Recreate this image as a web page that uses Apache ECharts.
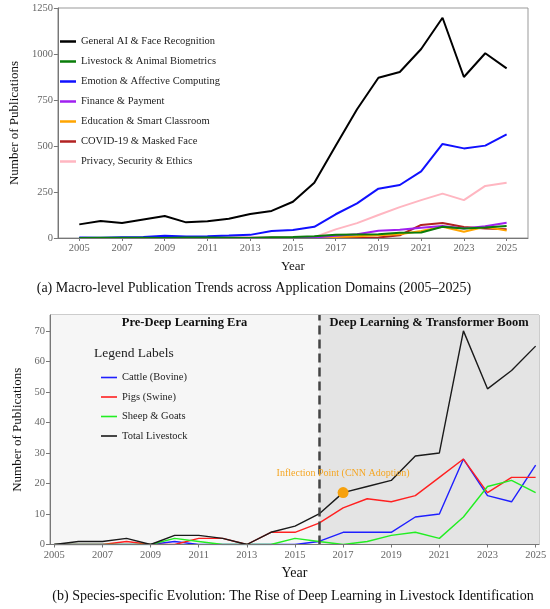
<!DOCTYPE html>
<html>
<head>
<meta charset="utf-8">
<script src="https://cdn.jsdelivr.net/npm/echarts@6/dist/echarts.min.js"></script>
<style>
  html, body { margin: 0; padding: 0; background: #fff; }
  #chart { width: 550px; height: 609px; }
</style>
</head>
<body>
<div id="chart"></div>
<script>
// datos
const years = [2005, 2006, 2007, 2008, 2009, 2010, 2011, 2012, 2013, 2014, 2015,
  2016, 2017, 2018, 2019, 2020, 2021, 2022, 2023, 2024, 2025];
const oddYears = [2005, 2007, 2009, 2011, 2013, 2015, 2017, 2019, 2021, 2023, 2025];

// (a) dominios
const domainNames = [
  "General AI & Face Recognition",
  "Livestock & Animal Biometrics",
  "Emotion & Affective Computing",
  "Finance & Payment",
  "Education & Smart Classroom",
  "COVID-19 & Masked Face",
  "Privacy, Security & Ethics",
];
const generalAI = [74, 92, 81, 101, 120, 85, 91, 105, 130, 147, 197, 300, 502, 700, 871, 902, 1027, 1197, 875, 1004, 922];
const livestock = [0, 1, 1, 2, 0, 3, 3, 2, 0, 4, 6, 10, 17, 19, 21, 29, 30, 61, 51, 57, 65];
const emotion = [3, 2, 4, 5, 12, 8, 10, 13, 17, 38, 43, 61, 129, 188, 268, 288, 362, 511, 487, 502, 563];
const finance = [0, 0, 0, 0, 1, 1, 1, 1, 1, 2, 2, 3, 12, 20, 40, 45, 56, 65, 51, 64, 83];
const education = [0, 0, 0, 0, 0, 0, 0, 1, 1, 1, 2, 3, 6, 10, 15, 20, 38, 61, 34, 61, 40];
const covid = [0, 0, 0, 0, 0, 0, 0, 0, 0, 0, 0, 0, 0, 1, 3, 15, 71, 81, 60, 51, 47];
const privacy = [0, 0, 0, 0, 0, 0, 0, 0, 0, 1, 2, 5, 47, 81, 125, 168, 206, 241, 206, 283, 300];
const domainColors = ["#000000", "#0a7d0a", "#1010ff", "#a020f0", "#ffa500", "#b22222", "#ffb6c1"];
const yTicksA = [0, 250, 500, 750, 1000, 1250];

// (b) especies
const speciesNames = ["Cattle (Bovine)", "Pigs (Swine)", "Sheep & Goats", "Total Livestock"];
const cattle = [0, 0, 0, 0, 0, 1, 0, 0, 0, 0, 0, 1, 4, 4, 4, 9, 10, 28, 16, 14, 26];
const pigs = [0, 0, 0, 1, 0, 0, 2, 2, 0, 4, 4, 7, 12, 15, 14, 16, 22, 28, 17, 22, 22];
const sheep = [0, 0, 0, 0, 0, 2, 1, 0, 0, 0, 2, 1, 0, 1, 3, 4, 2, 9, 19, 21, 17];
const totalLivestock = [0, 1, 1, 2, 0, 3, 3, 2, 0, 4, 6, 10, 17, 19, 21, 29, 30, 70, 51, 57, 65];
const speciesColors = ["#1f1fff", "#ff2020", "#22ee22", "#1a1a1a"];
const yTicksB = [0, 10, 20, 30, 40, 50, 60, 70];
const eraBreak = 2016;
const inflection = [2017, 17];

const pares = (vals) => years.map((y, i) => [y, vals[i]]);
const fuente = "Liberation Serif";

const domainSeries = [generalAI, livestock, emotion, finance, education, covid, privacy].map((vals, i) => ({
  name: domainNames[i],
  type: "line",
  xAxisIndex: 0,
  yAxisIndex: 0,
  data: pares(vals),
  showSymbol: false,
  lineStyle: { width: 2, color: domainColors[i] },
  itemStyle: { color: domainColors[i] },
  z: 10 - i,
}));

const speciesSeries = [cattle, pigs, sheep, totalLivestock].map((vals, i) => ({
  name: speciesNames[i],
  type: "line",
  xAxisIndex: 1,
  yAxisIndex: 1,
  data: pares(vals),
  showSymbol: false,
  lineStyle: { width: 1.4, color: speciesColors[i] },
  itemStyle: { color: speciesColors[i] },
}));

// fondo de las eras, linea discontinua y punto de inflexion
speciesSeries[3].markArea = {
  silent: true,
  label: { fontFamily: fuente, fontWeight: "bold", fontSize: 12.5, color: "#111", position: "insideTop", distance: 1 },
  data: [
    [{ name: "Pre-Deep Learning Era", xAxis: 2004.82, itemStyle: { color: "#f6f6f6" } }, { xAxis: eraBreak }],
    [{ name: "Deep Learning & Transformer Boom", xAxis: eraBreak, itemStyle: { color: "#e4e4e4" } }, { xAxis: 2025.14 }],
  ],
};
speciesSeries[3].markLine = {
  silent: true,
  symbol: "none",
  label: { show: false },
  lineStyle: { color: "#444", width: 2.5, type: [9, 5] },
  data: [{ xAxis: eraBreak }],
};
speciesSeries[3].markPoint = {
  symbol: "circle",
  symbolSize: 11,
  itemStyle: { color: "#f7a10c" },
  label: {
    show: true,
    position: "top",
    distance: 9,
    formatter: "Inflection Point (CNN Adoption)",
    fontFamily: fuente,
    fontSize: 10,
    color: "#f5a623",
  },
  data: [{ coord: inflection }],
};

const ejeX = (min, max, gridIndex, nameFont) => ({
  type: "value",
  gridIndex,
  min,
  max,
  z: 20,
  name: "Year",
  nameLocation: "middle",
  nameGap: 22,
  nameTextStyle: { fontFamily: fuente, fontSize: nameFont, color: "#111" },
  axisLine: { show: true, lineStyle: { color: "#777" } },
  axisTick: { show: true, length: 3, customValues: oddYears, lineStyle: { color: "#777" } },
  axisLabel: { customValues: oddYears, formatter: (v) => String(v), fontFamily: fuente, fontSize: 10.5, color: "#666", margin: 5 },
  splitLine: { show: false },
});

const ejeY = (ticks, max, gridIndex, nameGap) => ({
  type: "value",
  gridIndex,
  min: 0,
  max,
  z: 20,
  name: "Number of Publications",
  nameLocation: "middle",
  nameGap,
  nameTextStyle: { fontFamily: fuente, fontSize: 13, color: "#111" },
  axisLine: { show: true, lineStyle: { color: "#777" } },
  axisTick: { show: true, length: 4, customValues: ticks, lineStyle: { color: "#777" } },
  axisLabel: { customValues: ticks, formatter: (v) => String(v), fontFamily: fuente, fontSize: 10.5, color: "#666", margin: 5 },
  splitLine: { show: false },
});

const option = {
  animation: false,
  backgroundColor: "#fff",
  grid: [
    { left: 45, top: 8, width: 483, height: 230, show: true, borderColor: "#999", borderWidth: 1 },
    { left: 50, top: 315, width: 489, height: 229.5, show: true, borderColor: "#999", borderWidth: 1 },
  ],
  xAxis: [ejeX(2004, 2026, 0, 13), ejeX(2004.82, 2025.14, 1, 14)],
  yAxis: [ejeY(yTicksA, 1250, 0, 35), ejeY(yTicksB, 75.2, 1, 25)],
  legend: [
    {
      data: domainNames,
      orient: "vertical",
      left: 55,
      top: 31,
      itemWidth: 16,
      itemHeight: 2.5,
      itemGap: 9,
      icon: "rect",
      textStyle: { fontFamily: fuente, fontSize: 10.5, color: "#222" },
    },
    {
      data: speciesNames,
      orient: "vertical",
      left: 96,
      top: 367,
      itemWidth: 16,
      itemHeight: 1.6,
      itemGap: 8.5,
      icon: "rect",
      textStyle: { fontFamily: fuente, fontSize: 10.5, color: "#222" },
    },
  ],
  graphic: [
    {
      type: "text",
      left: 94,
      top: 346,
      z: 100,
      style: { text: "Legend Labels", fontFamily: fuente, fontSize: 13.5, fill: "#222" },
    },
    {
      type: "text",
      x: 254,
      y: 288,
      style: {
        text: "(a) Macro-level Publication Trends across Application Domains (2005–2025)",
        fontFamily: fuente,
        fontSize: 14,
        fill: "#111",
        align: "center",
        verticalAlign: "middle",
      },
    },
    {
      type: "text",
      x: 293,
      y: 596,
      style: {
        text: "(b) Species-specific Evolution: The Rise of Deep Learning in Livestock Identification",
        fontFamily: fuente,
        fontSize: 14,
        fill: "#111",
        align: "center",
        verticalAlign: "middle",
      },
    },
  ],
  series: [...domainSeries, ...speciesSeries],
};

const miGrafico = echarts.init(document.getElementById("chart"));
miGrafico.setOption(option);
</script>
</body>
</html>
